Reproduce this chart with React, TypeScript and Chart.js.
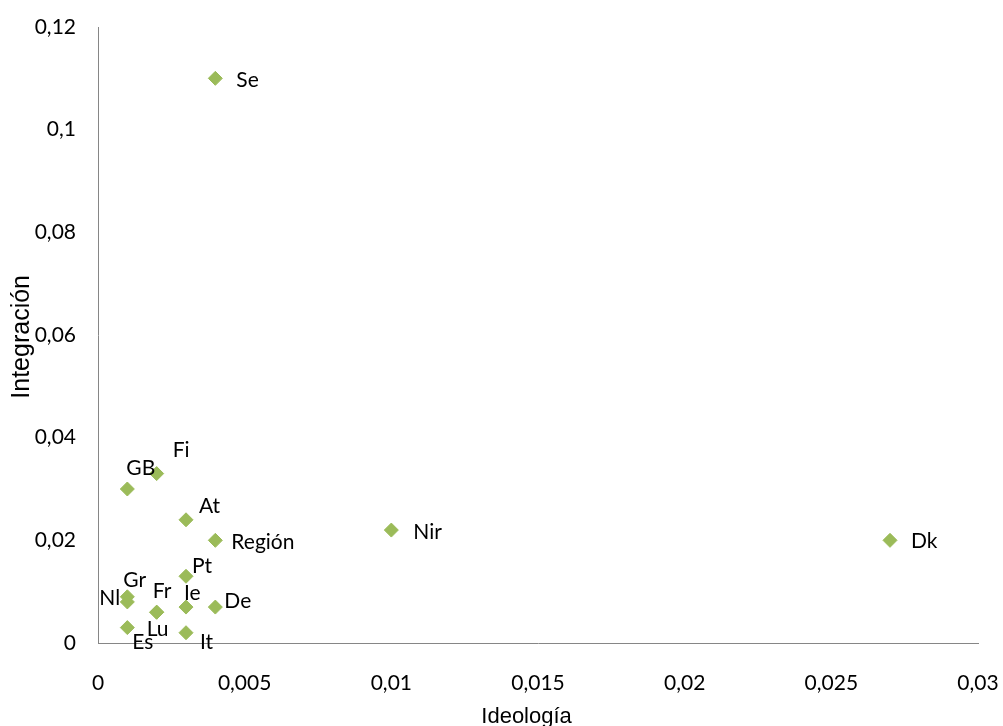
import React, { useEffect, useRef } from "react";
import { Chart, registerables } from "chart.js";

Chart.register(...registerables);

const countryLabels = ["Se", "Fi", "GB", "At", "Región", "Nir", "Dk", "Pt", "Gr", "Nl", "Fr", "Ie", "De", "Es", "Lu", "It"];
const ideologiaValues = [0.004, 0.002, 0.001, 0.003, 0.004, 0.01, 0.027, 0.003, 0.001, 0.001, 0.002, 0.003, 0.004, 0.001, 0.002, 0.003];
const integracionValues = [0.11, 0.033, 0.03, 0.024, 0.02, 0.022, 0.02, 0.013, 0.009, 0.008, 0.006, 0.007, 0.007, 0.003, 0.006, 0.002];
const xTitle = "Ideología";
const yTitle = "Integración";

// label placement offsets (left edge / vertical centre relative to the marker)
const labelOffsets: [number, number][] = [
  [21, 2], [16, -23], [-1, -21], [13, -14], [16, 2], [22, 2], [21, 1], [6, -10],
  [-4, -17], [-28, -4], [-4, -21], [-2, -14], [9, -6], [5, 15], [-10, 17], [14, 10],
];

const FONT = "Lato, 'Open Sans', sans-serif";
const TITLE_FONT = "'Liberation Sans', Arial, sans-serif";
const FONT_SIZE = 21;
const fmt = (v: number) => String(Number(Number(v).toFixed(4))).replace(".", ",");

const labelPlugin = {
  id: "pointLabels",
  afterDatasetsDraw(chart: any) {
    const ctx = chart.ctx;
    const meta = chart.getDatasetMeta(0);
    ctx.save();
    ctx.font = `${FONT_SIZE}px ${FONT}`;
    ctx.fillStyle = "#000";
    ctx.textAlign = "left";
    ctx.textBaseline = "middle";
    meta.data.forEach((pt: any, i: number) => {
      const [dx, dy] = labelOffsets[i];
      ctx.fillText(countryLabels[i], pt.x + dx, pt.y + dy);
    });
    ctx.restore();
  },
  afterDraw(chart: any) {
    const ctx = chart.ctx;
    const area = chart.chartArea;
    ctx.save();
    ctx.fillStyle = "#000";
    ctx.textAlign = "center";
    ctx.textBaseline = "alphabetic";
    ctx.font = `22px ${TITLE_FONT}`;
    ctx.fillText(xTitle, area.left + (area.right - area.left) * 0.487, 723);
    ctx.translate(29, area.top + (area.bottom - area.top) * 0.503);
    ctx.rotate(-Math.PI / 2);
    ctx.font = `25px ${TITLE_FONT}`;
    ctx.fillText(yTitle, 0, 0);
    ctx.restore();
  },
};

export default function App() {
  const ref = useRef<HTMLCanvasElement | null>(null);
  useEffect(() => {
    document.body.style.margin = "0";
    let alive = true;
    const chart = new Chart(ref.current as HTMLCanvasElement, {
      type: "scatter",
      data: {
        datasets: [
          {
            label: yTitle,
            data: ideologiaValues.map((x, i) => ({ x, y: integracionValues[i] })),
            pointStyle: "rectRot",
            pointRadius: 7,
            pointBackgroundColor: "#9BBB59",
            pointBorderColor: "#9BBB59",
            pointBorderWidth: 1,
          },
        ],
      },
      options: {
        animation: false,
        responsive: true,
        maintainAspectRatio: false,
        layout: { padding: { left: 0, top: 27, right: 25, bottom: 0 } },
        plugins: { legend: { display: false }, tooltip: { enabled: false } },
        scales: {
          x: {
            type: "linear",
            min: 0,
            max: 0.03,
            ticks: {
              stepSize: 0.005,
              padding: 28,
              color: "#000",
              font: { family: FONT, size: FONT_SIZE },
              callback: (v: any) => fmt(v),
            },
            grid: { display: false, drawTicks: false },
            border: { display: true, color: "#868686", width: 1 },
            afterFit: (s: any) => {
              s.height = 83;
              s.paddingLeft = 0;
              s.paddingRight = 0;
            },
          },
          y: {
            type: "linear",
            min: 0,
            max: 0.12,
            ticks: {
              stepSize: 0.02,
              padding: 22,
              color: "#000",
              font: { family: FONT, size: FONT_SIZE },
              callback: (v: any) => fmt(v),
            },
            grid: { display: false, drawTicks: false },
            border: { display: true, color: "#868686", width: 1 },
            afterFit: (s: any) => {
              s.width = 98;
              s.paddingTop = 0;
              s.paddingBottom = 0;
            },
          },
        },
      },
      plugins: [labelPlugin],
    });
    const fonts: any = (document as any).fonts;
    if (fonts && fonts.load) {
      Promise.all([fonts.load(`${FONT_SIZE}px Lato`), fonts.load(`22px "Liberation Sans"`)])
        .then(() => {
          if (alive) chart.update();
        })
        .catch(() => {});
    }
    return () => {
      alive = false;
      chart.destroy();
    };
  }, []);
  return (
    <div style={{ position: "fixed", left: 0, top: 0, width: 1003, height: 726 }}>
      <canvas ref={ref} />
    </div>
  );
}
